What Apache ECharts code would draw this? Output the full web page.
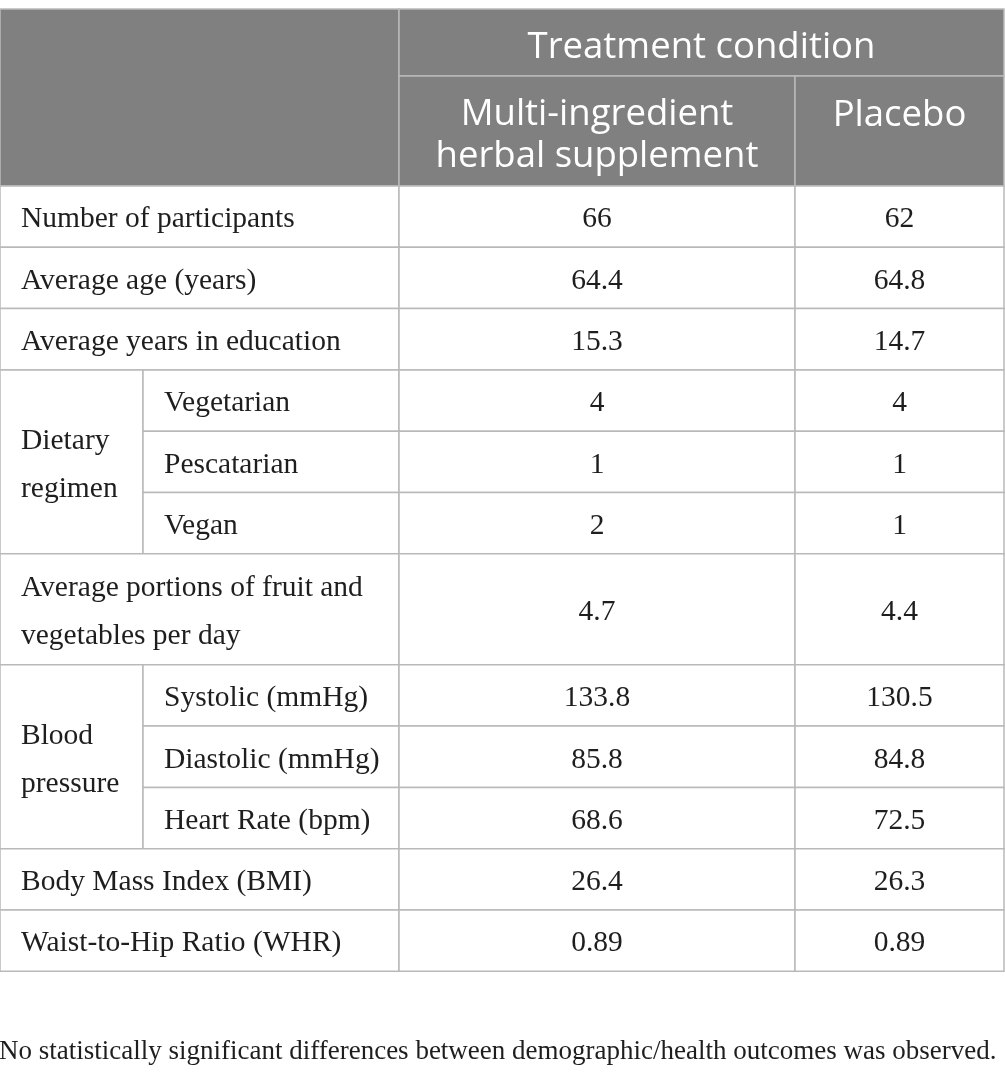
<!DOCTYPE html>
<html>
<head>
<meta charset="utf-8">
<title>Treatment condition table</title>
<script src="https://cdn.jsdelivr.net/npm/echarts@6/dist/echarts.min.js"></script>
<style>
  html, body { margin: 0; padding: 0; background: #fff; }
  #main { width: 1005px; height: 1080px; }
</style>
</head>
<body>
<div id="main"></div>
<script>
// table text
const groupHeader = 'Treatment condition';
const columnHeaders = ['Multi-ingredient\nherbal supplement', 'Placebo'];
const groupLabels = ['Number of participants', 'Average age (years)', 'Average years in education',
  'Dietary\nregimen', 'Average portions of fruit and\nvegetables per day', 'Blood\npressure',
  'Body Mass Index (BMI)', 'Waist-to-Hip Ratio (WHR)'];
const groupSpans = [1, 1, 1, 3, 1, 3, 1, 1];
const subLabels = [null, null, null, 'Vegetarian', 'Pescatarian', 'Vegan', null,
  'Systolic (mmHg)', 'Diastolic (mmHg)', 'Heart Rate (bpm)', null, null];
const herbalValues = ['66', '64.4', '15.3', '4', '1', '2', '4.7', '133.8', '85.8', '68.6', '26.4', '0.89'];
const placeboValues = ['62', '64.8', '14.7', '4', '1', '1', '4.4', '130.5', '84.8', '72.5', '26.3', '0.89'];
const footnote = 'No statistically significant differences between demographic/health outcomes was observed.';

// layout (axis units)
const colEdges = [0, 143, 399, 795, 1004];
const headRows = [67, 110];
const singleRow = 61.3, doubleRow = 111;
const headFill = '#808080', lineColor = '#b9b9b9', textColor = '#1e1e1e';
const serif = '"Liberation Serif", "Times New Roman", serif';
const sans = '"Open Sans", "Noto Sans", sans-serif';

// row edges
let rowEdges = [0];
headRows.forEach(h => rowEdges.push(rowEdges[rowEdges.length - 1] + h));
let bodyRowCount = herbalValues.length;
let twoLineRow = {};
let r0 = 0;
for (let g = 0; g < groupLabels.length; g++) {
  if (groupSpans[g] == 1 && groupLabels[g].indexOf('\n') >= 0) twoLineRow[r0] = true;
  r0 += groupSpans[g];
}
for (let i = 0; i < bodyRowCount; i++) {
  rowEdges.push(rowEdges[rowEdges.length - 1] + (twoLineRow[i] ? doubleRow : singleRow));
}
const tableHeight = rowEdges[rowEdges.length - 1];

// cells
let cells = [];
cells.push({ c0: 0, c1: 2, r0: 0, r1: 2, text: '', head: true });
cells.push({ c0: 2, c1: 4, r0: 0, r1: 1, text: groupHeader, head: true, align: 'center' });
cells.push({ c0: 2, c1: 3, r0: 1, r1: 2, text: columnHeaders[0], head: true, align: 'center' });
cells.push({ c0: 3, c1: 4, r0: 1, r1: 2, text: columnHeaders[1], head: true, align: 'center', top: true });

let row = 0;
for (let g = 0; g < groupLabels.length; g++) {
  let span = groupSpans[g];
  let hasSub = subLabels[row] != null;
  cells.push({ c0: 0, c1: hasSub ? 1 : 2, r0: row + 2, r1: row + 2 + span, text: groupLabels[g], align: 'left' });
  for (let k = 0; k < span; k++) {
    let i = row + k;
    if (subLabels[i] != null) {
      cells.push({ c0: 1, c1: 2, r0: i + 2, r1: i + 3, text: subLabels[i], align: 'left' });
    }
    cells.push({ c0: 2, c1: 3, r0: i + 2, r1: i + 3, text: herbalValues[i], align: 'center' });
    cells.push({ c0: 3, c1: 4, r0: i + 2, r1: i + 3, text: placeboValues[i], align: 'center' });
  }
  row += span;
}

let cellData = cells.map(c => [colEdges[c.c0], colEdges[c.c1], rowEdges[c.r0], rowEdges[c.r1]]);

let chart = echarts.init(document.getElementById('main'));
chart.setOption({
  animation: false,
  title: {
    text: footnote,
    left: -1,
    top: 1038,
    padding: 0,
    textStyle: { fontFamily: serif, fontSize: 27, fontWeight: 'normal', color: textColor }
  },
  grid: { left: 0, right: 0, top: 9, height: tableHeight },
  xAxis: { type: 'value', min: 0, max: 1005, show: false },
  yAxis: { type: 'value', min: 0, max: tableHeight, inverse: true, show: false },
  series: [{
    type: 'custom',
    coordinateSystem: 'cartesian2d',
    data: cellData,
    renderItem: function (params, api) {
      let c = cells[params.dataIndex];
      let p0 = api.coord([api.value(0), api.value(2)]);
      let p1 = api.coord([api.value(1), api.value(3)]);
      let w = p1[0] - p0[0], h = p1[1] - p0[1];
      let tx = c.align == 'left' ? p0[0] + 21 : p0[0] + w / 2;
      let ty = c.top ? p0[1] + 19 : p0[1] + h / 2 + (c.head ? 5 : 3);
      return {
        type: 'group',
        children: [{
          type: 'rect',
          shape: { x: p0[0], y: p0[1], width: w, height: h },
          style: { fill: c.head ? headFill : '#fff', stroke: lineColor, lineWidth: 1.5 }
        }, {
          type: 'text',
          style: {
            text: c.text,
            x: tx,
            y: ty,
            align: c.align || 'left',
            verticalAlign: c.top ? 'top' : 'middle',
            fill: c.head ? '#fff' : textColor,
            fontFamily: c.head ? sans : serif,
            fontSize: c.head ? 36.5 : 29.5,
            lineHeight: c.head ? 42 : 48
          }
        }]
      };
    }
  }]
});
</script>
</body>
</html>
